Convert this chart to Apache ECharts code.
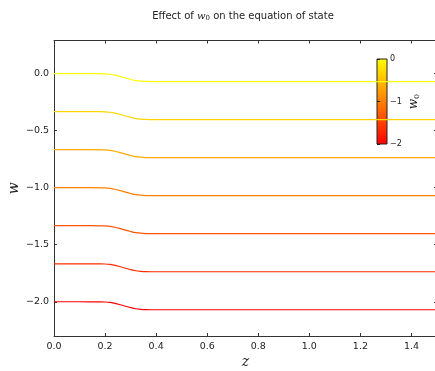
<!DOCTYPE html>
<html><head><meta charset="utf-8">
<script src="https://cdn.jsdelivr.net/npm/echarts@6/dist/echarts.min.js"></script>
<style>html,body{margin:0;padding:0;background:#fff}#c{width:435px;height:371px}</style>
</head><body><div id="c"></div>
<script>
const zValues = [0, 0.1, 0.18, 0.2, 0.22, 0.24, 0.26, 0.28, 0.3, 0.32, 0.34, 0.36, 0.38, 0.4, 0.6, 0.8, 1.0, 1.2, 1.5];
const w0Values = [0, -1/3, -2/3, -1, -4/3, -5/3, -2];
const lineColors = ['#ffff00', '#ffd500', '#ffaa00', '#ff8000', '#ff5500', '#ff2b00', '#ff0000'];
const wSeries0 = [0, 0, -0.001, -0.002, -0.006, -0.014, -0.026, -0.039, -0.051, -0.061, -0.066, -0.069, -0.070, -0.070, -0.070, -0.070, -0.070, -0.070, -0.070];
const wSeries1 = [-0.333, -0.333, -0.334, -0.335, -0.339, -0.347, -0.359, -0.372, -0.384, -0.394, -0.399, -0.402, -0.403, -0.403, -0.403, -0.403, -0.403, -0.403, -0.403];
const wSeries2 = [-0.667, -0.667, -0.668, -0.669, -0.673, -0.681, -0.693, -0.706, -0.718, -0.728, -0.733, -0.736, -0.737, -0.737, -0.737, -0.737, -0.737, -0.737, -0.737];
const wSeries3 = [-1, -1, -1.001, -1.002, -1.006, -1.014, -1.026, -1.039, -1.051, -1.061, -1.066, -1.069, -1.070, -1.070, -1.070, -1.070, -1.070, -1.070, -1.070];
const wSeries4 = [-1.333, -1.333, -1.334, -1.335, -1.339, -1.347, -1.359, -1.372, -1.384, -1.394, -1.399, -1.402, -1.403, -1.403, -1.403, -1.403, -1.403, -1.403, -1.403];
const wSeries5 = [-1.667, -1.667, -1.668, -1.669, -1.673, -1.681, -1.693, -1.706, -1.718, -1.728, -1.733, -1.736, -1.737, -1.737, -1.737, -1.737, -1.737, -1.737, -1.737];
const wSeries6 = [-2, -2, -2.001, -2.002, -2.006, -2.014, -2.026, -2.039, -2.051, -2.061, -2.066, -2.069, -2.070, -2.070, -2.070, -2.070, -2.070, -2.070, -2.070];
const allSeries = [wSeries0, wSeries1, wSeries2, wSeries3, wSeries4, wSeries5, wSeries6];
const xTicks = [0, 0.2, 0.4, 0.6, 0.8, 1.0, 1.2, 1.4];
const yTicks = [-2, -1.5, -1, -0.5, 0];
const cbarTicks = [-2, -1, 0];

const fmt = v => v.toFixed(1).replace('-', '\u2212');
const axisCol = '#333';
const txtCol = '#222';
const mathFont = 'DejaVu Serif';

const chart = echarts.init(document.getElementById('c'), null, {renderer: 'canvas'});
const option = {
  animation: false,
  backgroundColor: '#fff',
  title: {
    text: '{a|Effect of }{m|w}{s|0}{a| on the equation of state}',
    left: 238, top: 6, textAlign: 'center',
    textStyle: {
      fontWeight: 'normal',
      rich: {
        a: {fontFamily: 'DejaVu Sans', fontSize: 10, fontWeight: 'normal', color: txtCol},
        m: {fontFamily: mathFont, fontStyle: 'italic', fontWeight: 'normal', fontSize: 10, color: txtCol},
        s: {fontFamily: mathFont, fontSize: 7, fontWeight: 'normal', color: txtCol, verticalAlign: 'bottom', padding: [4, 0, 0, 0]}
      }
    }
  },
  grid: [
    {left: 54, top: 40.5, width: 383, height: 295.5, containLabel: false, outerBoundsMode: 'none'},
    {left: 377, top: 59, width: 10, height: 85, show: true, borderColor: '#222', borderWidth: 1, outerBoundsMode: 'none',
     backgroundColor: new echarts.graphic.LinearGradient(0, 0, 0, 1, [{offset: 0, color: '#ffff00'}, {offset: 1, color: '#ff0000'}])}
  ],
  xAxis: [
    {type: 'value', gridIndex: 0, min: 0, max: 1.5, position: 'bottom',
     name: 'z', nameLocation: 'middle', nameGap: 19, nameMoveOverlap: false,
     nameTextStyle: {fontFamily: mathFont, fontStyle: 'italic', fontSize: 14, color: txtCol},
     axisLine: {show: true, onZero: false, lineStyle: {color: axisCol, width: 1}},
     axisTick: {show: true, inside: true, length: 3, customValues: xTicks, lineStyle: {color: axisCol}},
     axisLabel: {show: true, customValues: xTicks, formatter: fmt, fontFamily: 'DejaVu Sans', fontSize: 9.5, color: txtCol, margin: 6},
     splitLine: {show: false}},
    {type: 'value', gridIndex: 0, min: 0, max: 1.5, position: 'top',
     axisLine: {show: true, onZero: false, lineStyle: {color: axisCol, width: 1}},
     axisTick: {show: true, inside: true, length: 3, customValues: xTicks, lineStyle: {color: axisCol}},
     axisLabel: {show: false}, splitLine: {show: false}},
    {type: 'value', gridIndex: 1, min: 0, max: 1, show: false}
  ],
  yAxis: [
    {type: 'value', gridIndex: 0, min: -2.3, max: 0.29, position: 'left',
     name: 'w', nameLocation: 'middle', nameGap: 33, nameRotate: 90, nameMoveOverlap: false,
     nameTextStyle: {fontFamily: mathFont, fontStyle: 'italic', fontSize: 14, color: txtCol},
     axisLine: {show: true, onZero: false, lineStyle: {color: axisCol, width: 1}},
     axisTick: {show: true, inside: true, length: 3, customValues: yTicks, lineStyle: {color: axisCol}},
     axisLabel: {show: true, customValues: yTicks, formatter: fmt, fontFamily: 'DejaVu Sans', fontSize: 9.5, color: txtCol, margin: 5},
     splitLine: {show: false}},
    {type: 'value', gridIndex: 0, min: -2.3, max: 0.29, position: 'right',
     axisLine: {show: true, onZero: false, lineStyle: {color: axisCol, width: 1}},
     axisTick: {show: true, inside: true, length: 3, customValues: yTicks, lineStyle: {color: axisCol}},
     axisLabel: {show: false}, splitLine: {show: false}},
    {type: 'value', gridIndex: 1, min: -2, max: 0, position: 'right',
     name: '{m|w}{s|0}', nameLocation: 'middle', nameGap: 20, nameRotate: 90, nameMoveOverlap: false,
     nameTextStyle: {rich: {
       m: {fontFamily: mathFont, fontStyle: 'italic', fontSize: 12, color: txtCol},
       s: {fontFamily: mathFont, fontSize: 8, color: txtCol, verticalAlign: 'bottom', padding: [6, 0, 0, 0]}
     }},
     axisLine: {show: false},
     axisTick: {show: true, inside: false, length: 3, customValues: cbarTicks, lineStyle: {color: '#222'}},
     axisLabel: {show: true, customValues: cbarTicks, formatter: v => String(v).replace('-', '\u2212'), fontFamily: 'DejaVu Sans', fontSize: 8, color: txtCol, margin: 3},
     splitLine: {show: false}}
  ],
  series: allSeries.map((vals, i) => ({
    type: 'line', xAxisIndex: 0, yAxisIndex: 0, name: 'w0=' + w0Values[i].toFixed(2),
    data: zValues.map((z, j) => [z, vals[j]]),
    showSymbol: false, smooth: 0.3,
    lineStyle: {color: lineColors[i], width: 1.2},
    itemStyle: {color: lineColors[i]}
  }))
};
chart.setOption(option);
</script></body></html>
